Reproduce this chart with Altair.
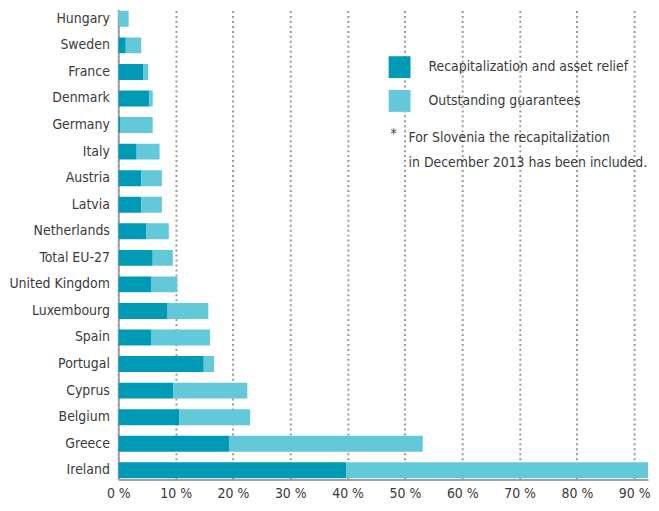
import altair as alt
import pandas as pd

countries = ["Hungary", "Sweden", "France", "Denmark", "Germany", "Italy", "Austria",
             "Latvia", "Netherlands", "Total EU-27", "United Kingdom", "Luxembourg",
             "Spain", "Portugal", "Cyprus", "Belgium", "Greece", "Ireland"]
recap = [0.0, 1.3, 4.4, 5.4, 0.4, 3.2, 4.0, 4.0, 4.9, 6.0, 5.7, 8.6, 5.7, 14.9, 9.6, 10.6, 19.3, 39.8]
guarantees = [1.8, 2.7, 0.8, 0.6, 5.6, 4.0, 3.6, 3.6, 3.9, 3.5, 4.6, 7.1, 10.3, 1.8, 12.9, 12.4, 33.8, 55.0]
series = ["Recapitalization and asset relief", "Outstanding guarantees"]
colors = ["#0099b6", "#63c8d8"]
ticks = [0, 10, 20, 30, 40, 50, 60, 70, 80, 90]
footnote = ["For Slovenia the recapitalization", "in December 2013 has been included."]

rows = []
for c, r, g in zip(countries, recap, guarantees):
    rows.append({"country": c, "series": series[0], "value": r, "order": 0})
    rows.append({"country": c, "series": series[1], "value": g, "order": 1})
df = pd.DataFrame(rows)

FONT = "'DejaVu Sans Condensed', 'Open Sans', sans-serif"
TXT = "#3a3a3a"
FS = 14

bars = alt.Chart(df).mark_bar(clip=True).encode(
    y=alt.Y("country:N", sort=countries, title=None,
            scale=alt.Scale(paddingInner=0.4, paddingOuter=0.05),
            axis=alt.Axis(labelFont=FONT, labelFontSize=FS, labelColor=TXT, ticks=False,
                          domainColor="#a0a0a0", domainWidth=2, labelPadding=9, grid=False)),
    x=alt.X("value:Q", stack="zero", title=None,
            scale=alt.Scale(domain=[0, 92.4], nice=False, zero=True),
            axis=alt.Axis(values=ticks, labelExpr="datum.value + ' %'", labelFont=FONT,
                          labelFontSize=FS, labelColor=TXT, ticks=False, domainColor="#a0a0a0",
                          domainWidth=2, labelPadding=7, grid=True, gridColor="#999999",
                          gridDash=[2, 3], gridWidth=2, labelFlush=False)),
    color=alt.Color("series:N", sort=series,
                    scale=alt.Scale(domain=series, range=colors),
                    legend=alt.Legend(title=None, orient="none", legendX=272, legendY=47,
                                      symbolType="square", symbolSize=484, symbolStrokeWidth=0,
                                      labelFont=FONT, labelFontSize=FS, labelColor=TXT,
                                      labelOffset=18, rowPadding=12, labelLimit=400)),
    order=alt.Order("order:Q"),
)

star = alt.Chart(pd.DataFrame({"t": ["*"]})).mark_text(
    font=FONT, fontSize=FS, color=TXT, align="left", baseline="middle"
).encode(text="t:N", x=alt.value(274), y=alt.value(125))
fn1 = alt.Chart(pd.DataFrame({"t": [footnote[0]]})).mark_text(
    font=FONT, fontSize=FS, color=TXT, align="left", baseline="middle"
).encode(text="t:N", x=alt.value(292), y=alt.value(129))
fn2 = alt.Chart(pd.DataFrame({"t": [footnote[1]]})).mark_text(
    font=FONT, fontSize=FS, color=TXT, align="left", baseline="middle"
).encode(text="t:N", x=alt.value(292), y=alt.value(154))

chart = alt.layer(bars, star, fn1, fn2).properties(
    width=533, height=473, padding=0
).configure_view(stroke=None)

chart.save("out.html", embed_options={"renderer": "svg", "actions": False})
